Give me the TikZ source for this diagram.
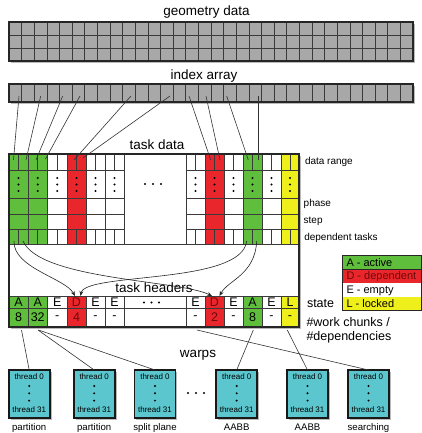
\documentclass[tikz,border=0pt]{standalone}
\usepackage{fontspec}
\setmainfont{Liberation Sans}
\usetikzlibrary{shadows,arrows.meta}
\definecolor{cgreen}{HTML}{5FBE3C}
\definecolor{cred}{HTML}{E8262B}
\definecolor{cyellow}{HTML}{EFEF1C}
\definecolor{cgray}{HTML}{A8A8A8}
\definecolor{ccyan}{HTML}{5BC6CD}
\definecolor{dred}{HTML}{6E0A0A}
\definecolor{gline}{HTML}{3A3A3A}
\begin{document}
\begin{tikzpicture}[x=1pt,y=-1pt,
  every node/.style={inner sep=0pt, outer sep=0pt},
  ttl/.style={font=\fontsize{13.5}{15}\selectfont},
  lbl/.style={anchor=west,font=\fontsize{10}{12}\selectfont},
  big/.style={anchor=west,font=\fontsize{12.5}{14}\selectfont},
  cellt/.style={font=\fontsize{12.5}{14}\selectfont},
  leg/.style={anchor=west,font=\fontsize{11}{13}\selectfont},
  gridl/.style={draw=gline, line width=0.7pt},
  border/.style={draw=black!85, line width=1.2pt},
  shad/.style={drop shadow={shadow xshift=1.8pt,shadow yshift=-1.8pt,opacity=0.45,fill=black!60}},
  conn/.style={draw=black!80,line width=0.6pt},
  dep/.style={draw=black!85,line width=0.6pt,-{Stealth[length=5pt,width=4pt]}},
  warp/.style={draw=black!90,line width=1.6pt,fill=ccyan,minimum width=41pt,minimum height=48pt,shad},
  wtxt/.style={font=\fontsize{8}{9}\selectfont},
  wlab/.style={anchor=base,font=\fontsize{9.6}{11}\selectfont}]
\useasboundingbox (0,0) rectangle (422,433);

% geometry data
\node[ttl] (geot) at (206.5,12.5) {geometry data};
\path[fill=cgray, shad] (9,22) rectangle (413,61);
\foreach \i in {1,...,31} \draw[gridl] ({9+\i*12.625},22) -- ({9+\i*12.625},61);
\draw[gridl] (9,35) -- (413,35) (9,48) -- (413,48);
\draw[border] (9,22) rectangle (413,61);

% index array
\node[ttl] (idxt) at (204,76) {index array};
\path[fill=cgray, shad] (9,84) rectangle (413,102);
\foreach \i in {1,...,31} \draw[gridl] ({9+\i*12.625},84) -- ({9+\i*12.625},102);
\draw[border] (9,84) rectangle (413,102);

% task data + headers box
\node[ttl] (tdt) at (157,145) {task data};
\path[fill=white, shad] (9,154) rectangle (299,327);
\foreach \xa/\xb/\fc/\st/\num/\tc [count=\k] in {
  9/28/cgreen/A/8/black, 28/47.5/cgreen/A/32/black, 47.5/67/white/E/-/black,
  67/86/cred/D/4/dred, 86/105/white/E/-/black, 105/124/white/E/-/black,
  186/205/white/E/-/black, 205/224/cred/D/2/dred, 224/243/white/E/-/black,
  243/262/cgreen/A/8/black, 262/281/white/E/-/black, 281/299/cyellow/L/-/black}{
  \fill[\fc] (\xa,154) rectangle (\xb,244);
  \fill[\fc] (\xa,296) rectangle (\xb,327);
  \draw[gridl] (\xa,154) -- (\xa,244) (\xb,154) -- (\xb,244);
  \draw[gridl] (\xa,170) -- (\xb,170) (\xa,198) -- (\xb,198)
               (\xa,214) -- (\xb,214) (\xa,229) -- (\xb,229);
  \draw[gridl] ({(\xa+\xb)/2},154) -- ({(\xa+\xb)/2},170)
               ({(\xa+\xb)/2},229) -- ({(\xa+\xb)/2},244);
  \fill ({(\xa+\xb)/2},178) circle (1.1) ({(\xa+\xb)/2},184.5) circle (1.1)
        ({(\xa+\xb)/2},191) circle (1.1);
  \draw[gridl] (\xa,296) -- (\xa,327) (\xb,296) -- (\xb,327) (\xa,308) -- (\xb,308);
  \node[cellt, text=\tc] (hs\k) at ({(\xa+\xb)/2},302) {\st};
  \node[cellt, text=\tc] (hn\k) at ({(\xa+\xb)/2},317.5) {\num};
}
\foreach \x in {145,153,161} \fill (\x,184) circle (1.1);
\foreach \x in {144,151.5,159} \fill (\x,302.5) circle (1.1);
\draw[gridl] (124,308) -- (186,308);
\draw[gridl] (9,244) -- (299,244) (9,296) -- (299,296);
\draw[border] (9,154) rectangle (299,327);
\node[ttl] (tht) at (154,287.5) {task headers};

% index -> task data connectors
\foreach \sx/\ex/\ey [count=\k] in {19/13.5/160, 40.7/26/160, 62.7/36/160, 80/45.5/159,
   131/74/160, 170/83/158, 189/210.7/160, 206/220/160, 226.7/248.3/160, 258.3/258.3/160}{
  \coordinate (is\k) at (\sx,96);
  \coordinate (te\k) at (\ex,\ey);
  \draw[conn] (is\k) -- (te\k);
}

% dependency arrows
\coordinate (da) at (14,241);
\coordinate (db) at (23,241);
\coordinate (dc) at (246.7,241);
\coordinate (dd) at (256.7,241);
\coordinate (ha) at (75,296);
\coordinate (hc) at (80.5,296);
\coordinate (hb) at (212,296);
\coordinate (hd) at (219.5,296);
\draw[dep] (da) .. controls (13,268) and (65,278) .. (ha);
\draw[dep] (db) .. controls (40,280) and (180,280) .. (hb);
\draw[dep] (dc) .. controls (242,285) and (85,272) .. (hc);
\draw[dep] (dd) .. controls (255,275) and (228,280) .. (hd);

% right labels
\node[lbl] (l1) at (305,162.3) {data range};
\node[lbl] (l2) at (303.7,204.3) {phase};
\node[lbl] (l3) at (303.7,221.7) {step};
\node[lbl] (l4) at (304.3,238.3) {dependent tasks};
\node[big] (l5) at (307,303.3) {state};
\node[big] (l6) at (306.5,322) {\#work chunks /};
\node[big] (l7) at (306.5,337.5) {\#dependencies};

% legend
\fill[cgreen] (342,255) rectangle (421.5,269);
\fill[cred] (342,269) rectangle (421.5,283);
\fill[white] (342,283) rectangle (421.5,297);
\fill[cyellow] (342,297) rectangle (421.5,310);
\draw[draw=black!85, line width=0.8pt] (342,255) rectangle (421.5,310) (342,269) -- (421.5,269);
\node[leg] (lg1) at (346.5,263) {A - active};
\node[leg, text=dred] (lg2) at (346.5,276.3) {D - dependent};
\node[leg] (lg3) at (346.5,290.5) {E - empty};
\node[leg] (lg4) at (346.5,303.3) {L - locked};

% warps
\node[ttl] (wt) at (198,355) {warps};
\foreach \x/\lab [count=\k] in {29.2/partition, 94.2/partition, 155/split plane,
    236.7/AABB, 307.5/AABB, 368.5/searching}{
  \node[warp] (w\k) at (\x,394) {};
  \node[wtxt] (wa\k) at (\x,377) {thread 0};
  \node[wtxt] (wb\k) at (\x,410) {thread 31};
  \fill (\x,386) circle (1.1) (\x,393.3) circle (1.1) (\x,400.6) circle (1.1);
  \node[wlab] (wl\k) at (\x,430.5) {\lab};
}
\foreach \x in {188,196,204} \fill (\x,393) circle (1.1);

% header -> warp connectors
\coordinate (s1) at (21.5,330);
\coordinate (s2) at (38,330);
\coordinate (s3) at (38.5,330);
\coordinate (s4) at (253.3,330);
\coordinate (s5) at (287.3,330);
\coordinate (s6) at (197,330);
\draw[conn] (s1) -- (w1.north);
\draw[conn] (s2) -- (w2.north);
\draw[conn] (s3) -- (w3.north);
\draw[conn] (s4) -- (w4.north);
\draw[conn] (s5) -- (w5.north);
\draw[conn] (s6) -- (w6.north);
\end{tikzpicture}
\end{document}
